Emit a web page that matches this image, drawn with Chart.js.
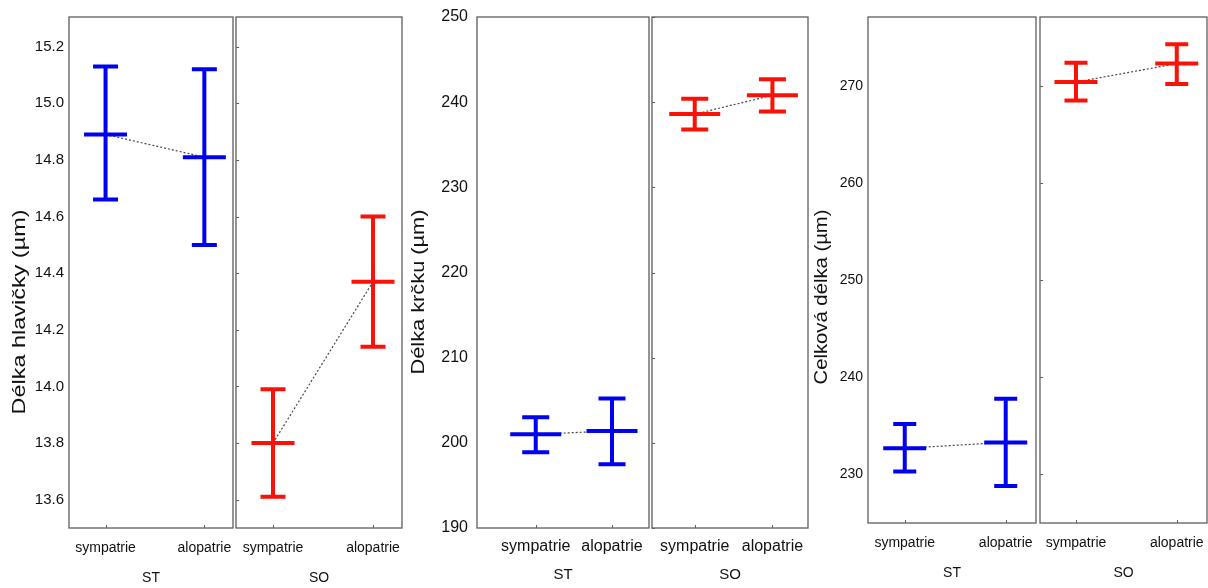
<!DOCTYPE html>
<html><head><meta charset="utf-8">
<script src="https://cdn.jsdelivr.net/npm/chart.js@4.4.1/dist/chart.umd.min.js"></script>
<style>
html,body{margin:0;padding:0;background:#fff;}
#wrap{position:relative;width:1208px;height:588px;overflow:hidden;background:#fff;}
#wrap canvas{position:absolute;top:0;}
</style></head><body><div id="wrap"></div>
<script>
// ---------- data ----------
const categories = ['sympatrie', 'alopatrie'];
const groups = ['ST', 'SO'];
const yTitles = ['Délka hlavičky (µm)', 'Délka krčku (µm)', 'Celková délka (µm)'];

const ticksHlavicka = [13.6, 13.8, 14.0, 14.2, 14.4, 14.6, 14.8, 15.0, 15.2];
const ticksKrcku = [190, 200, 210, 220, 230, 240, 250];
const ticksCelkova = [230, 240, 250, 260, 270];

const hlavickaST_mean = [14.89, 14.81];
const hlavickaST_low  = [14.66, 14.50];
const hlavickaST_high = [15.13, 15.12];
const hlavickaSO_mean = [13.80, 14.37];
const hlavickaSO_low  = [13.61, 14.14];
const hlavickaSO_high = [13.99, 14.60];

const krckuST_mean = [201.0, 201.4];
const krckuST_low  = [198.9, 197.5];
const krckuST_high = [203.0, 205.2];
const krckuSO_mean = [238.6, 240.8];
const krckuSO_low  = [236.8, 238.9];
const krckuSO_high = [240.4, 242.7];

const celkovaST_mean = [232.7, 233.3];
const celkovaST_low  = [230.3, 228.8];
const celkovaST_high = [235.2, 237.8];
const celkovaSO_mean = [270.4, 272.3];
const celkovaSO_low  = [268.5, 270.2];
const celkovaSO_high = [272.4, 274.3];

// ---------- style / layout ----------
const BLUE = '#0000f2';
const RED = '#fa1208';
const TEXT = '#111';
const FONT = "'Liberation Sans', Arial, sans-serif";
Chart.defaults.font.family = FONT;
Chart.defaults.color = TEXT;

const panels = [
  { title: yTitles[0], ticks: ticksHlavicka, yMin: 13.5, yMax: 15.305, top: 17, bottom: 528,
    axisStart: 0, tickFs: 15, xFs: 14, gFs: 14, tickPad: 5, labelY: 548, groupY: 578,
    meanW: 43, capW: 25, titleFs: 19, titleX: 20, titleY: 312, titleLen: 205,
    subs: [
      { left: 69, right: 233, xMin: -0.37, xMax: 1.29, mean: hlavickaST_mean, low: hlavickaST_low, high: hlavickaST_high, color: BLUE, group: groups[0] },
      { left: 236, right: 402, xMin: -0.37, xMax: 1.29, mean: hlavickaSO_mean, low: hlavickaSO_low, high: hlavickaSO_high, color: RED, group: groups[1] }
    ] },
  { title: yTitles[1], ticks: ticksKrcku, yMin: 190, yMax: 250, top: 17, bottom: 528,
    axisStart: 405, tickFs: 16, xFs: 16, gFs: 15, tickPad: 9, labelY: 547, groupY: 575,
    meanW: 51, capW: 27, titleFs: 19, titleX: 419, titleY: 292, titleLen: 165,
    subs: [
      { left: 477, right: 649, xMin: -0.77, xMax: 1.485, mean: krckuST_mean, low: krckuST_low, high: krckuST_high, color: BLUE, group: groups[0] },
      { left: 652, right: 808, xMin: -0.55, xMax: 1.458, mean: krckuSO_mean, low: krckuSO_low, high: krckuSO_high, color: RED, group: groups[1] }
    ] },
  { title: yTitles[2], ticks: ticksCelkova, yMin: 225.0, yMax: 277.1, top: 17, bottom: 523,
    axisStart: 812, tickFs: 14, xFs: 14, gFs: 14, tickPad: 5, labelY: 543, groupY: 573,
    meanW: 43, capW: 23, titleFs: 18, titleX: 822, titleY: 297, titleLen: 175,
    subs: [
      { left: 868, right: 1036, xMin: -0.364, xMax: 1.30, mean: celkovaST_mean, low: celkovaST_low, high: celkovaST_high, color: BLUE, group: groups[0] },
      { left: 1040, right: 1207, xMin: -0.357, xMax: 1.30, mean: celkovaSO_mean, low: celkovaSO_low, high: celkovaSO_high, color: RED, group: groups[1] }
    ] }
];

const H = 588;
const wrap = document.getElementById('wrap');

function makeChart(p, s, withAxis) {
  const canvasLeft = withAxis ? p.axisStart : s.left - 3;
  const axisW = s.left - canvasLeft;
  const W = s.right - canvasLeft + 3;
  const cv = document.createElement('canvas');
  cv.width = W; cv.height = H;
  cv.style.left = canvasLeft + 'px';
  cv.style.width = W + 'px'; cv.style.height = H + 'px';
  wrap.appendChild(cv);

  const xLabelLH = p.xFs * 1.2, gLH = p.gFs * 1.2;

  const framePlugin = {
    id: 'frame' + canvasLeft,
    beforeDatasetsDraw(chart) {
      const { ctx, chartArea: a } = chart;
      const xs = chart.scales.x, ys = chart.scales.y;
      ctx.save();
      ctx.strokeStyle = '#5e5e5e';
      ctx.lineWidth = 1.3;
      ctx.strokeRect(a.left, a.top, a.right - a.left, a.bottom - a.top);
      ctx.lineWidth = 1;
      ctx.beginPath();
      categories.forEach((c, i) => {
        const x = Math.round(xs.getPixelForValue(i)) + 0.5;
        ctx.moveTo(x, a.bottom); ctx.lineTo(x, a.bottom - 3);
      });
      if (!withAxis) {
        p.ticks.forEach(v => {
          const y = Math.round(ys.getPixelForValue(v)) + 0.5;
          ctx.moveTo(a.left, y); ctx.lineTo(a.left + 3, y);
        });
      }
      ctx.stroke();
      ctx.restore();
    }
  };

  const errPlugin = {
    id: 'err' + canvasLeft,
    afterDatasetsDraw(chart) {
      const { ctx } = chart;
      const xs = chart.scales.x, ys = chart.scales.y;
      ctx.save();
      ctx.strokeStyle = s.color;
      ctx.lineWidth = 4;
      ctx.lineCap = 'butt';
      s.mean.forEach((m, i) => {
        const x = xs.getPixelForValue(i);
        const yh = ys.getPixelForValue(s.high[i]);
        const yl = ys.getPixelForValue(s.low[i]);
        const ym = ys.getPixelForValue(m);
        ctx.beginPath();
        ctx.moveTo(x, yh); ctx.lineTo(x, yl);
        ctx.moveTo(x - p.capW / 2, yh); ctx.lineTo(x + p.capW / 2, yh);
        ctx.moveTo(x - p.capW / 2, yl); ctx.lineTo(x + p.capW / 2, yl);
        ctx.moveTo(x - p.meanW / 2, ym); ctx.lineTo(x + p.meanW / 2, ym);
        ctx.stroke();
      });
      ctx.restore();
    }
  };

  const titlePlugin = {
    id: 'ytitle' + canvasLeft,
    afterDraw(chart) {
      if (!withAxis) return;
      const { ctx } = chart;
      ctx.save();
      ctx.translate(p.titleX - canvasLeft, p.titleY);
      ctx.rotate(-Math.PI / 2);
      ctx.font = p.titleFs + 'px ' + FONT;
      const w = ctx.measureText(p.title).width;
      ctx.scale(p.titleLen / w, 1);
      ctx.fillStyle = TEXT;
      ctx.textAlign = 'center';
      ctx.textBaseline = 'middle';
      ctx.fillText(p.title, 0, 0);
      ctx.restore();
    }
  };

  return new Chart(cv, {
    type: 'scatter',
    data: {
      datasets: [{
        label: s.group,
        data: categories.map((c, i) => ({ x: i, y: s.mean[i] })),
        showLine: true,
        borderColor: '#4a4a4a',
        borderWidth: 1.2,
        borderDash: [2, 2],
        pointRadius: 0,
        pointHoverRadius: 0
      }]
    },
    options: {
      responsive: false,
      animation: false,
      devicePixelRatio: 1,
      layout: { padding: { top: p.top, right: 3, left: 0, bottom: 0 } },
      plugins: { legend: { display: false }, tooltip: { enabled: false } },
      scales: {
        x: {
          type: 'linear', position: 'bottom', min: s.xMin, max: s.xMax,
          grid: { display: false, drawTicks: false },
          border: { display: false },
          afterBuildTicks: sc => { sc.ticks = categories.map((c, i) => ({ value: i })); },
          afterFit: sc => { sc.height = H - p.bottom; sc.paddingLeft = 0; sc.paddingRight = 0; },
          ticks: {
            autoSkip: false, maxRotation: 0, minRotation: 0,
            font: { size: p.xFs }, color: TEXT,
            padding: (p.labelY - p.bottom) - xLabelLH / 2,
            callback: v => categories[v]
          },
          title: {
            display: true, text: s.group, color: TEXT,
            font: { size: p.gFs },
            padding: { top: 0, bottom: H - p.groupY - gLH / 2 }
          }
        },
        y: {
          type: 'linear', position: 'left', min: p.yMin, max: p.yMax,
          grid: { display: false, drawTicks: false },
          border: { display: false },
          afterBuildTicks: sc => { sc.ticks = p.ticks.map(v => ({ value: v })); },
          afterFit: sc => { sc.width = axisW; sc.paddingTop = 0; sc.paddingBottom = 0; },
          ticks: {
            display: withAxis, autoSkip: false,
            font: { size: p.tickFs }, color: TEXT,
            padding: p.tickPad,
            callback: v => (p.ticks[0] % 1 !== 0 ? v.toFixed(1) : String(v))
          }
        }
      }
    },
    plugins: [framePlugin, errPlugin, titlePlugin]
  });
}

panels.forEach(p => {
  makeChart(p, p.subs[0], true);
  makeChart(p, p.subs[1], false);
});
</script>
</body></html>
